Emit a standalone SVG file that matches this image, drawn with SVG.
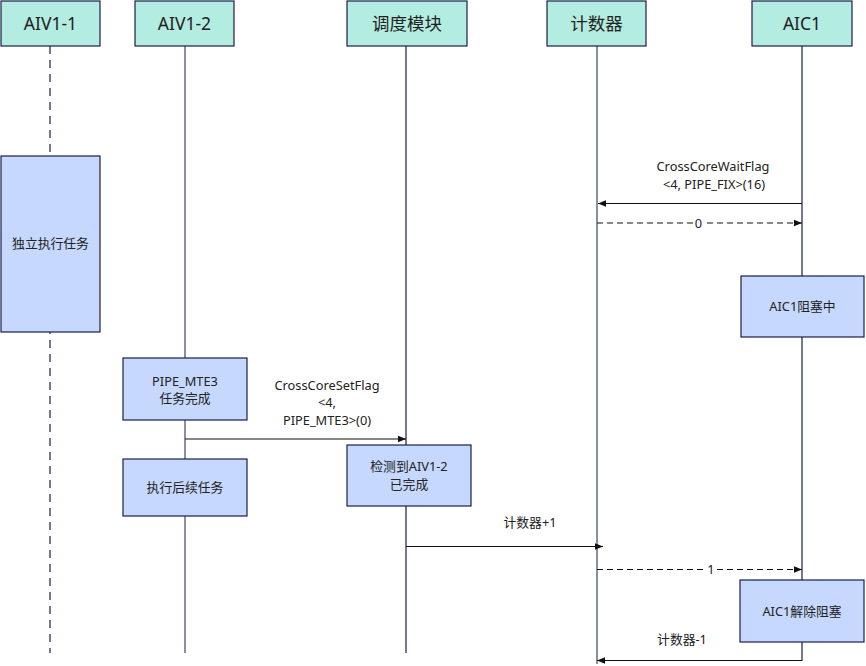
<svg xmlns="http://www.w3.org/2000/svg" width="866" height="666" viewBox="0 0 866 666">
<style>
.hdr{fill:#b3ece0;stroke:#1b1f4a;stroke-width:1.2}
.act{fill:#c6d8fd;stroke:#1b1f4a;stroke-width:1.2}
.ht{font-family:"Noto Sans","Noto Sans CJK SC",sans-serif;font-size:17.5px;fill:#222;text-anchor:middle}
.t{font-family:"Noto Sans","Noto Sans CJK SC",sans-serif;font-size:12.8px;fill:#222;text-anchor:middle}
.lg{stroke:#8a8ea6;stroke-width:2;fill:none}
.ld{stroke:#1b1f4a;stroke-width:1.2;fill:none}
.m{stroke:#111;stroke-width:1.2;fill:none}
.md{stroke:#111;stroke-width:1.2;fill:none;stroke-dasharray:6 4}
</style>
<defs>
<marker id="ah" viewBox="0 0 10 10" refX="10" refY="5" markerWidth="8" markerHeight="8" markerUnits="userSpaceOnUse" orient="auto">
<path d="M0,1 L10,5 L0,9 Z" fill="#111"/>
</marker>
</defs>
<rect width="866" height="666" fill="#fff"/>
<g id="lifelines">
<line x1="50" y1="46" x2="50" y2="653" stroke="#1b1f4a" stroke-width="1.2" stroke-dasharray="8 6"/>
<line class="lg" x1="185" y1="46" x2="185" y2="653"/>
<line class="ld" x1="406" y1="46" x2="406" y2="653"/>
<line class="lg" x1="597" y1="46" x2="597" y2="664"/>
<line class="ld" x1="802" y1="46" x2="802" y2="661"/>
</g>
<g id="h-aiv11"><rect class="hdr" x="1" y="1" width="99" height="45"/><text class="ht" x="50.5" y="30">AIV1-1</text></g>
<g id="h-aiv12"><rect class="hdr" x="135" y="1" width="99" height="45"/><text class="ht" x="184.5" y="30">AIV1-2</text></g>
<g id="h-sched"><rect class="hdr" x="347" y="1" width="120" height="45"/><text class="ht" x="407" y="30">调度模块</text></g>
<g id="h-counter"><rect class="hdr" x="547" y="1" width="99" height="45"/><text class="ht" x="596.5" y="30">计数器</text></g>
<g id="h-aic1"><rect class="hdr" x="752" y="1" width="100" height="45"/><text class="ht" x="802" y="30">AIC1</text></g>
<g id="a-indep"><rect class="act" x="1" y="156" width="99" height="176"/><text class="t" x="50.5" y="248">独立执行任务</text></g>
<g id="a-block"><rect class="act" x="741" y="276" width="123" height="61"/><text class="t" x="802.5" y="311">AIC1阻塞中</text></g>
<g id="a-mte3"><rect class="act" x="123" y="358" width="124" height="62"/><text class="t" x="185" y="386">PIPE_MTE3</text><text class="t" x="185" y="403">任务完成</text></g>
<g id="a-next"><rect class="act" x="123" y="459" width="124" height="57"/><text class="t" x="185" y="492">执行后续任务</text></g>
<g id="a-detect"><rect class="act" x="347" y="445" width="124" height="61"/><text class="t" x="409" y="471">检测到AIV1-2</text><text class="t" x="409" y="489">已完成</text></g>
<g id="a-unblock"><rect class="act" x="740" y="580" width="124" height="62"/><text class="t" x="802" y="616">AIC1解除阻塞</text></g>
<g id="connectors">
<line class="m" x1="802" y1="203.5" x2="598" y2="203.5" marker-end="url(#ah)"/>
<text class="t" x="713" y="171">CrossCoreWaitFlag</text>
<text class="t" x="714" y="189">&lt;4, PIPE_FIX&gt;(16)</text>
<line class="md" x1="597" y1="223" x2="802" y2="223" marker-end="url(#ah)"/>
<rect x="693" y="215" width="11" height="16" fill="#fff"/>
<text class="t" x="698.5" y="227.5">0</text>
<line class="m" x1="185" y1="439" x2="406" y2="439" marker-end="url(#ah)"/>
<text class="t" x="327" y="390">CrossCoreSetFlag</text>
<text class="t" x="327" y="407">&lt;4,</text>
<text class="t" x="327" y="425">PIPE_MTE3&gt;(0)</text>
<line class="m" x1="406" y1="546.5" x2="603" y2="546.5" marker-end="url(#ah)"/>
<text class="t" x="530" y="527">计数器+1</text>
<line class="md" x1="597" y1="569.5" x2="802" y2="569.5" marker-end="url(#ah)"/>
<rect x="706" y="561" width="10" height="16" fill="#fff"/>
<text class="t" x="711" y="574">1</text>
<line class="m" x1="802" y1="660.5" x2="597" y2="660.5" marker-end="url(#ah)"/>
<text class="t" x="682" y="644">计数器-1</text>
</g>
</svg>
